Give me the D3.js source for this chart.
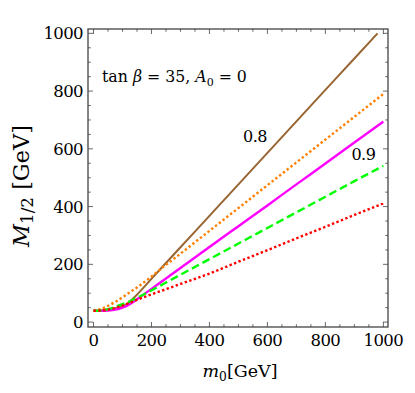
<!DOCTYPE html>
<html>
<head>
<meta charset="utf-8">
<script src="https://cdn.jsdelivr.net/npm/d3@7"></script>
<style>
  body { margin: 0; background: #fff; }
</style>
</head>
<body>
<svg id="chart" width="415" height="393"></svg>
<script>
const svg = d3.select("#chart").attr("font-family", "DejaVu Serif");

// values (m0 in GeV -> M1/2 in GeV)
const m0Grid = [0, 25, 50, 75, 100, 125, 150, 200, 250, 300, 400, 500, 600, 700, 800, 900, 1000];
const brownM0 = [0, 50, 100, 120, 143, 200, 300, 400, 500, 600, 700, 800, 900, 980];
const brownM = [40, 44, 55, 66, 88, 150, 259, 368, 477, 586, 695, 804, 913, 1000];
const orangeM = [40, 45, 56, 70, 86, 103, 120, 158, 198, 237, 316, 395, 474, 553, 632, 711, 790];
const magentaM = [39, 39, 40, 43, 50, 62, 79, 115, 151, 187, 260, 332, 404, 477, 549, 622, 694];
const greenM = [39, 40, 45, 53, 62, 72, 84, 110, 137, 164, 218, 272, 326, 380, 434, 488, 541];
const redM = [39, 40, 43, 49, 57, 67, 77, 96, 114, 132, 168, 209, 249, 290, 330, 371, 411];

const xTicks = [0, 200, 400, 600, 800, 1000];
const yTicks = [0, 200, 400, 600, 800, 1000];
const curveLabels = [
  { text: "0.8", m0: 557, M: 624 },
  { text: "0.9", m0: 931, M: 561 }
];

const pLeft = 88, pRight = 388, pTop = 29, pBottom = 327;
const x = d3.scaleLinear().domain([-19, 1016]).range([pLeft, pRight]);
const y = d3.scaleLinear().domain([-17, 1015]).range([pBottom, pTop]);

const ink = "#444";
const minorX = d3.range(0, 1001, 50);
const minorY = d3.range(0, 1001, 50);

// shrink/grow a text so it spans about the same width as in the picture
function fitWidth(sel, w) {
  const fs = +sel.attr("font-size");
  const cur = sel.node().getBBox().width;
  sel.attr("font-size", (fs * w / cur).toFixed(2));
}

// ticks on all four sides, pointing inward
function tickMarks(g, vals, horizontal, edge, dir) {
  g.selectAll(null).data(vals).enter().append("line")
    .attr("x1", d => horizontal ? x(d) : edge)
    .attr("x2", d => horizontal ? x(d) : edge + dir * (d % 200 === 0 ? 5 : 2.8))
    .attr("y1", d => horizontal ? edge : y(d))
    .attr("y2", d => horizontal ? edge + dir * (d % 200 === 0 ? 5 : 2.8) : y(d))
    .attr("stroke", ink).attr("stroke-width", 0.8);
}
const axes = svg.append("g");
tickMarks(axes, minorX, true, pBottom, -1);
tickMarks(axes, minorX, true, pTop, 1);
tickMarks(axes, minorY, false, pLeft, 1);
tickMarks(axes, minorY, false, pRight, -1);

axes.append("rect")
  .attr("x", pLeft).attr("y", pTop)
  .attr("width", pRight - pLeft).attr("height", pBottom - pTop)
  .attr("fill", "none").attr("stroke", ink).attr("stroke-width", 1.3);

axes.selectAll(null).data(xTicks).enter().append("text")
  .attr("x", d => x(d)).attr("y", 346)
  .attr("text-anchor", "middle").attr("font-size", 16.5)
  .attr("letter-spacing", -0.6)
  .text(d => d);

axes.selectAll(null).data(yTicks).enter().append("text")
  .attr("x", 83).attr("y", d => y(d) + 6)
  .attr("text-anchor", "end").attr("font-size", 16.5)
  .attr("letter-spacing", -0.6)
  .text(d => d);

// curves
const plot = svg.append("g");
const line = d3.line().x(d => x(d[0])).y(d => y(d[1])).curve(d3.curveMonotoneX);
const series = [
  { xs: brownM0, ys: brownM, color: "#996633", dash: null, width: 2 },
  { xs: m0Grid, ys: magentaM, color: "#ff00ff", dash: null, width: 2.4 },
  { xs: m0Grid, ys: orangeM, color: "#ff8000", dash: "2.4,2.4", width: 2.4 },
  { xs: m0Grid, ys: greenM, color: "#00ff00", dash: "8,4", width: 2.4 },
  { xs: m0Grid, ys: redM, color: "#ff0000", dash: "2.4,2.4", width: 2.4 }
];
series.forEach(s => {
  plot.append("path")
    .datum(s.xs.map((v, i) => [v, s.ys[i]]))
    .attr("d", line)
    .attr("fill", "none")
    .attr("stroke", s.color)
    .attr("stroke-width", s.width)
    .attr("stroke-dasharray", s.dash);
});

plot.selectAll(null).data(curveLabels).enter().append("text")
  .attr("x", d => x(d.m0)).attr("y", d => y(d.M))
  .attr("text-anchor", "middle").attr("font-size", 16)
  .attr("letter-spacing", -0.5)
  .text(d => d.text);

// annotation
const ann = svg.append("text").attr("x", 102).attr("y", 82).attr("font-size", 16);
ann.append("tspan").text("tan ");
ann.append("tspan").attr("font-style", "italic").text("β");
ann.append("tspan").text(" = 35, ");
ann.append("tspan").attr("font-style", "italic").text("A");
ann.append("tspan").attr("font-size", "70%").attr("dy", 4).text("0");
ann.append("tspan").attr("dy", -4).text(" = 0");
fitWidth(ann, 145);

// axis titles
const xt = svg.append("text").attr("x", 240).attr("y", 377)
  .attr("text-anchor", "middle").attr("font-size", 19);
xt.append("tspan").attr("font-style", "italic").text("m");
xt.append("tspan").attr("font-size", "70%").attr("dy", 4).text("0");
xt.append("tspan").attr("dy", -4).text("[GeV]");
fitWidth(xt, 75);

const yt = svg.append("text")
  .attr("transform", "translate(29,186) rotate(-90)")
  .attr("text-anchor", "middle").attr("font-size", 19);
yt.append("tspan").attr("font-style", "italic").text("M");
yt.append("tspan").attr("font-size", "75%").attr("dy", 4).text("1/2");
yt.append("tspan").attr("dy", -4).text(" [GeV]");
fitWidth(yt, 123);
</script>
</body>
</html>
